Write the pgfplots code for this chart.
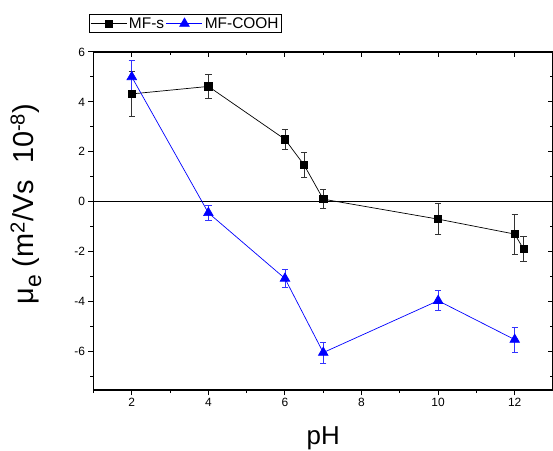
\documentclass[border=0pt]{standalone}
\usepackage{fontspec}
\setmainfont{Liberation Sans}
\usepackage{pgfplots}
\pgfplotsset{compat=1.18}

\pgfplotsset{
  frame/.style={
    scale only axis, width=459.5bp, height=338bp,
    xmin=1, xmax=13, ymin=-7.55, ymax=6,
    xtick={2,4,...,12}, ytick={-6,-4,...,6},
    minor xtick={1,3,...,13}, minor ytick={-7,-5,...,5},
    axis line style={line width=1.1bp},
    major tick length=5bp, minor tick length=3bp,
    every tick/.style={black, line width=1bp},
    /pgf/number format/assume math mode=true,
    ticklabel style={font=\fontsize{12}{14}\selectfont},
  }
}

\begin{document}
\begin{tikzpicture}
% inward ticks on top and right
\begin{axis}[frame, tick align=inside, xtick pos=top, ytick pos=right,
  xticklabels={}, yticklabels={}]
\end{axis}
\begin{axis}[frame, tick align=outside, xtick pos=bottom, ytick pos=left,
  clip=false,
  xlabel={pH}, ylabel={μ\raisebox{-0.5ex}{\fontsize{23}{25}\selectfont e} (m\textsuperscript{2}/Vs\ \ 10\textsuperscript{-8})},
  xlabel style={font=\fontsize{26}{30}\selectfont, at={(axis description cs:0.5,-0.142)}, anchor=center},
  ylabel style={font=\fontsize{29}{32}\selectfont, at={(axis description cs:-0.147,0.55)}, anchor=center, rotate=0},
  legend style={at={(axis description cs:0,1)}, anchor=south west, xshift=-4.5bp, yshift=19bp,
    draw=black, line width=0.6bp, font=\fontsize{15.5}{17}\selectfont,
    inner sep=1bp, /tikz/every even column/.append style={column sep=0bp}},
  legend columns=2,
  legend image code/.code={\draw[#1, mark repeat=2, mark phase=2] plot coordinates {(0bp,0bp) (18bp,0bp) (36bp,0bp)};},
]
\coordinate (sw) at (rel axis cs:0,0);
\coordinate (ne) at (rel axis cs:1,1);

\addplot[black, line width=1bp, forget plot] coordinates {(1,0) (13,0)};

\addplot[black, line width=0.7bp, mark=square*, mark size=3.6bp,
  mark options={solid},
  error bars/.cd, y dir=both, y explicit,
  error bar style={line width=0.8bp, black!80},
  error mark options={rotate=90, mark size=3.2bp, line width=0.8bp, black!80}]
coordinates {
  (2,4.32) +- (0,0.92)
  (4,4.62) +- (0,0.5)
  (6,2.5) +- (0,0.4)
  (6.5,1.47) +- (0,0.49)
  (7,0.1) +- (0,0.38)
  (10,-0.7) +- (0,0.63)
  (12,-1.3) +- (0,0.8)
  (12.23,-1.9) +- (0,0.5)
};
\addlegendentry{MF-s}

\addplot[blue, line width=0.7bp, mark=triangle*, mark size=5.5bp,
  mark options={solid},
  error bars/.cd, y dir=both, y explicit,
  error bar style={line width=0.8bp, blue!80},
  error mark options={rotate=90, mark size=3.2bp, line width=0.8bp, blue!80}]
coordinates {
  (2,5.0) +- (0,0.65)
  (4,-0.45) +- (0,0.32)
  (6,-3.08) +- (0,0.36)
  (7,-6.05) +- (0,0.42)
  (10,-3.97) +- (0,0.4)
  (12,-5.53) +- (0,0.5)
};
\addlegendentry{MF-COOH}
\end{axis}
\pgfresetboundingbox
\path[use as bounding box] ([shift={(-93.5bp,-61bp)}]sw) rectangle ([shift={(0bp,52bp)}]ne);
\end{tikzpicture}
\end{document}
